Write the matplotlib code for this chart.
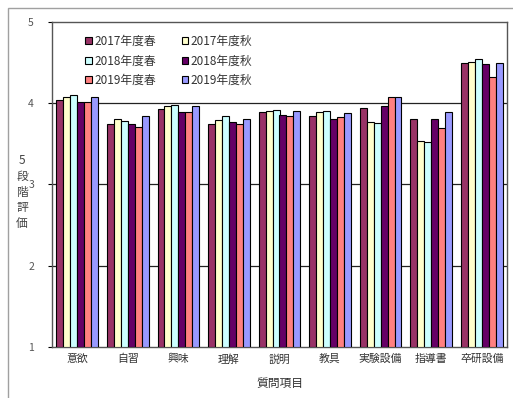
import matplotlib
matplotlib.use("Agg")
import matplotlib.pyplot as plt
import numpy as np
from matplotlib.patches import Rectangle

plt.rcParams['font.family'] = ['Noto Sans CJK JP', 'DejaVu Sans']

categories = ['意欲', '自習', '興味', '理解', '説明', '教具', '実験設備', '指導書', '卒研設備']
series_names = ['2017年度春', '2017年度秋', '2018年度春', '2018年度秋', '2019年度春', '2019年度秋']
s2017_spring = [4.04, 3.75, 3.93, 3.75, 3.89, 3.84, 3.94, 3.81, 4.50]
s2017_autumn = [4.08, 3.80, 3.96, 3.79, 3.91, 3.89, 3.77, 3.54, 4.51]
s2018_spring = [4.10, 3.78, 3.98, 3.84, 3.92, 3.90, 3.76, 3.52, 4.54]
s2018_autumn = [4.02, 3.75, 3.89, 3.77, 3.85, 3.81, 3.96, 3.81, 4.48]
s2019_spring = [4.02, 3.71, 3.89, 3.74, 3.84, 3.83, 4.08, 3.70, 4.32]
s2019_autumn = [4.08, 3.84, 3.96, 3.81, 3.91, 3.88, 4.08, 3.89, 4.50]
series = [s2017_spring, s2017_autumn, s2018_spring, s2018_autumn, s2019_spring, s2019_autumn]
colors = ['#993366', '#FFFFCC', '#CCFFFF', '#660066', '#FF8080', '#9999FF']
y_ticks = [1, 2, 3, 4, 5]

fig = plt.figure(figsize=(5.13, 3.98), dpi=100)
fig.patch.set_facecolor('white')

# outer chart border
fig.patches.append(Rectangle((8 / 513, -0.01), 1.0, 1 - 8 / 398 + 0.01,
                             transform=fig.transFigure, fill=False,
                             edgecolor='#a0a0a0', linewidth=1.0))

# heading, cut off by the top edge
fig.text(0.02, 1.0 + 0.016, '8. 全体評価を通じての回答の推移（2017年度～2019年度）',
         fontsize=12, color='#333333', va='center', ha='left')

ax = fig.add_axes([52 / 513, 1 - 347 / 398, 455 / 513, (347 - 22) / 398])

x = np.arange(len(categories))
bw = 0.1375
n = len(series)
handles = []
for i, (vals, name, c) in enumerate(zip(series, series_names, colors)):
    offs = (i - (n - 1) / 2) * bw
    heights = np.array(vals) - 1
    h = ax.bar(x + offs, heights, width=bw, bottom=1, color=c, edgecolor='black',
               linewidth=0.8, label=name, zorder=3)
    handles.append(h)

ax.set_xlim(-0.5, len(categories) - 0.5)
ax.set_ylim(1, 5)
ax.set_yticks(y_ticks)
ax.set_yticklabels([str(t) for t in y_ticks], fontsize=7.5, color='#555555')
ax.set_xticks(x)
ax.set_xticklabels(categories, fontsize=7.8, color='#333333')
ax.tick_params(axis='x', length=0, pad=5)
ax.tick_params(axis='y', length=3, width=0.8, pad=10, direction='out')
for yv in [2, 3, 4]:
    ax.axhline(yv, color='#222222', linewidth=0.9, zorder=1)
for s in ax.spines.values():
    s.set_color('#555555')
    s.set_linewidth(1.0)

ax.set_xlabel('質問項目', fontsize=8.5, color='#333333', labelpad=9)
fig.text(22 / 513, 1 - 192 / 398, '5\n段\n階\n評\n価', fontsize=8.5, color='#444444',
         ha='center', va='center', linespacing=1.3)

# legend filled row by row: spring / autumn of each year side by side
order = [0, 2, 4, 1, 3, 5]
leg = ax.legend([handles[k] for k in order], [series_names[k] for k in order],
                loc='upper left', bbox_to_anchor=(0.063, 0.975), ncol=2, frameon=False,
                fontsize=8.5, handlelength=0.55, handleheight=0.55, handletextpad=0.2,
                columnspacing=2.2, labelspacing=0.55, borderaxespad=0)
for t in leg.get_texts():
    t.set_color('#333333')

fig.savefig('out.png', dpi=100)
